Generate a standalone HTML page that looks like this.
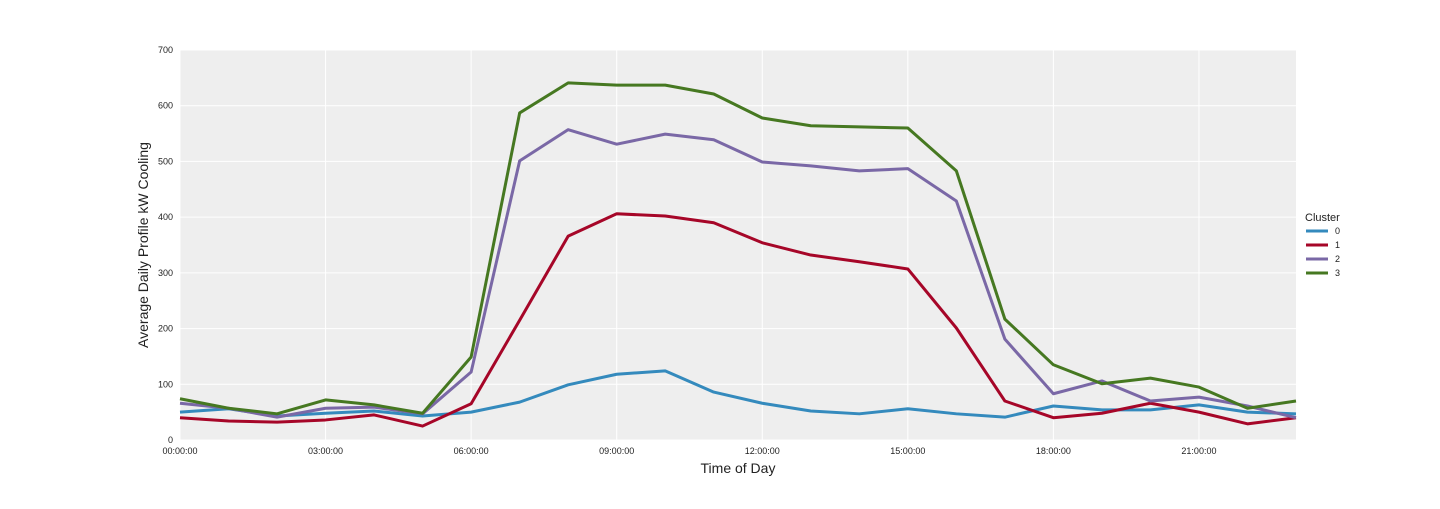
<!DOCTYPE html>
<html><head><meta charset="utf-8"><style>
body{margin:0;background:#fff;}
svg text{font-family:"Liberation Sans",Arial,sans-serif;}
</style></head><body>
<svg id="chart" width="1440" height="504" viewBox="0 0 1440 504" xmlns="http://www.w3.org/2000/svg">
<rect x="180" y="50" width="1116" height="390" fill="#eeeeee"/>
<g id="grid"></g>
<g id="series"></g>
<g id="ticks"></g>
<text x="738" y="473" text-anchor="middle" font-size="14" fill="#222">Time of Day</text>
<text transform="translate(148,245) rotate(-90)" text-anchor="middle" font-size="14" fill="#222">Average Daily Profile kW Cooling</text>
<g id="legend">
<text x="1305" y="221" font-size="11" fill="#222">Cluster</text>
</g>
</svg>
<script>
const hours = [0,1,2,3,4,5,6,7,8,9,10,11,12,13,14,15,16,17,18,19,20,21,22,23];
const clusterNames = ["0","1","2","3"];
const cluster0 = [50,56,43,48,52,43,50,68,99,118,124,86,66,52,47,56,47,41,61,54,54,63,50,47];
const cluster1 = [40,34,32,36,45,25,65,215,366,406,402,390,354,332,320,307,201,70,40,48,66,50,29,40];
const cluster2 = [66,57,41,57,59,47,122,501,557,531,549,539,499,492,483,487,429,181,83,106,70,77,61,40];
const cluster3 = [74,57,47,72,63,48,149,587,641,637,637,621,578,564,562,560,483,217,135,101,111,95,57,70];
const yTicks = [0,100,200,300,400,500,600,700];
const xTickHours = [0,3,6,9,12,15,18,21];
const xTickLabels = ["00:00:00","03:00:00","06:00:00","09:00:00","12:00:00","15:00:00","18:00:00","21:00:00"];
const colors = ["#348abd","#a60628","#7a68a6","#467821"];
const NS="http://www.w3.org/2000/svg";
const x = h => 180 + h*(1116/23);
const y = v => 440 - v*(390/700);
const grid=document.getElementById('grid'), ticks=document.getElementById('ticks'), series=document.getElementById('series'), legend=document.getElementById('legend');
function mk(tag, attrs, parent){const e=document.createElementNS(NS,tag);for(const k in attrs)e.setAttribute(k,attrs[k]);parent.appendChild(e);return e;}
yTicks.forEach(v=>{
  const l=mk('line',{x1:180,x2:1296,y1:y(v),y2:y(v),stroke:'#fff','stroke-width':1},grid);
  
  
  const t=mk('text',{x:173,y:y(v)+3,'text-anchor':'end','font-size':9,fill:'#222'},ticks);
  t.textContent=v;
  
  
});
xTickHours.forEach((h,i)=>{
  const l=mk('line',{x1:x(h),x2:x(h),y1:50,y2:440,stroke:'#fff','stroke-width':1},grid);
  
  
  const t=mk('text',{x:x(h),y:454,'text-anchor':'middle','font-size':9,fill:'#222'},ticks);
  t.textContent=xTickLabels[i];
  
  
});
[cluster0,cluster1,cluster2,cluster3].forEach((vals,i)=>{
  const p=mk('polyline',{points:vals.map((v,j)=>x(hours[j])+','+y(v)).join(' '),fill:'none',stroke:colors[i],'stroke-width':3,'stroke-linejoin':'round'},series);
  
  
  const ly=231+i*14;
  const ll=mk('line',{x1:1306,x2:1328,y1:ly,y2:ly,stroke:colors[i],'stroke-width':3},legend);
  
  
  const lt=mk('text',{x:1335,y:ly+3,'font-size':9,fill:'#222'},legend);
  lt.textContent=clusterNames[i];
  
  
});
</script>
</body></html>
